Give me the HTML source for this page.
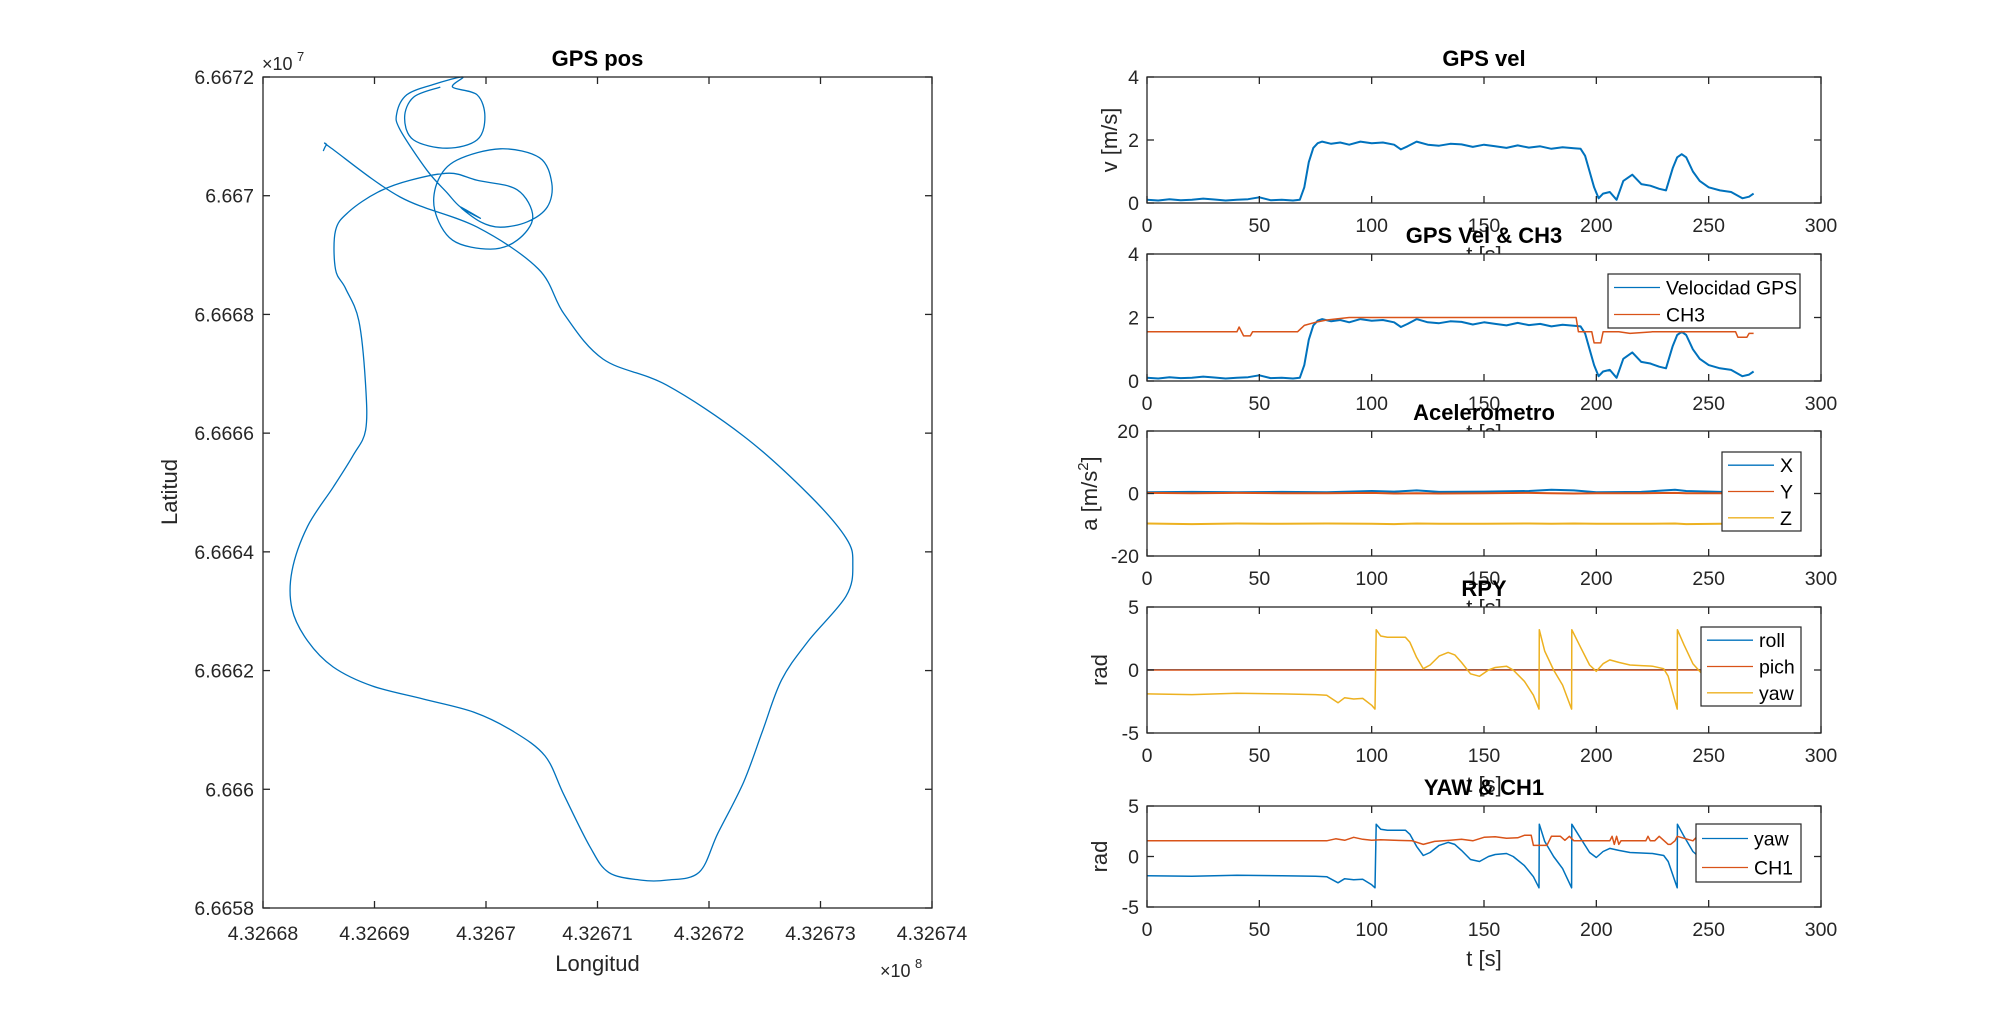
<!DOCTYPE html>
<html><head><meta charset="utf-8"><style>
html,body{margin:0;padding:0;background:#fff;}
svg{display:block;font-family:"Liberation Sans",Arial,sans-serif;}
</style></head><body>
<svg id="fig" width="2000" height="1016" viewBox="0 0 2000 1016" xmlns="http://www.w3.org/2000/svg"></svg>
<script>
// ---------- GPS position data (lon x1e8, lat x1e7) ----------
const gpsLon = [4.3266854,4.3266857,4.3266861,4.3266923,4.3266992,4.3267047,4.326707,4.3267105,4.3267162,4.3267231,4.3267289,4.3267323,4.3267329,4.3267323,4.3267289,4.3267265,4.3267248,4.3267231,4.3267208,4.3267191,4.3267162,4.3267139,4.326711,4.3267093,4.326707,4.3267053,4.3267024,4.3266989,4.3266944,4.3266898,4.3266863,4.326684,4.3266826,4.3266826,4.326684,4.3266863,4.3266881,4.3266892,4.3266892,4.3266886,4.3266874,4.3266865,4.3266865,4.3266877,4.3266903,4.3266932,4.3266967,4.3266992,4.3267028,4.3267042,4.3267028,4.3267004,4.326697,4.3266954,4.3266957,4.3266974,4.3267013,4.3267048,4.3267059,4.3267055,4.3267037,4.3267013,4.3266995,4.3266977,4.3266995,4.3266977,4.3266965,4.3266947,4.3266923,4.326692,4.3266929,4.3266952,4.3266979,4.326697,4.3266992,4.3266999,4.3266992,4.3266965,4.3266935,4.3266927,4.3266935,4.3266959];
const gpsLat = [6.6670753,6.6670854,6.6670804,6.6669978,6.6669472,6.6668765,6.6668007,6.6667248,6.666681,6.6665951,6.6664974,6.6664232,6.6663794,6.6663255,6.6662497,6.666184,6.666098,6.666012,6.665926,6.66586,6.665847,6.665847,6.66586,6.665904,6.66599,6.666056,6.666098,6.66613,6.666152,6.666174,6.666206,6.66625,6.666304,6.666368,6.666443,6.666509,6.666563,6.666605,6.666681,6.666789,6.666844,6.666876,6.666941,6.666973,6.667006,6.667026,6.667038,6.667026,6.66701,6.666964,6.666925,6.66691,6.666925,6.666976,6.667026,6.66706,6.667079,6.667064,6.667021,6.666981,6.666956,6.666947,6.666956,6.666981,6.666962,6.666981,6.667005,6.667043,6.667111,6.667139,6.66717,6.667187,6.6672,6.667183,6.66717,6.667133,6.667094,6.66708,6.667094,6.667131,6.667166,6.667183];
const lonTicks = ["4.32668","4.32669","4.3267","4.32671","4.32672","4.32673","4.32674"];
const latTicks = ["6.6658","6.666","6.6662","6.6664","6.6666","6.6668","6.667","6.6672"];

// ---------- time series ----------
const timeTicks = [0,50,100,150,200,250,300];
const velT = [0,5,10,15,20,25,30,35,40,45,50,55,60,65,68,70,72,74,76,78,82,86,90,95,100,105,110,113,116,120,125,130,135,140,145,150,155,160,165,170,175,180,185,190,193,195,197,199,201,203,206,209,212,216,220,224,228,231,234,236,238,240,243,246,250,255,260,265,268,270];
const velV = [0.1,0.08,0.12,0.09,0.1,0.14,0.11,0.08,0.1,0.12,0.18,0.09,0.1,0.08,0.1,0.5,1.3,1.75,1.9,1.95,1.88,1.92,1.85,1.95,1.9,1.92,1.85,1.7,1.8,1.95,1.85,1.82,1.88,1.86,1.78,1.85,1.8,1.75,1.83,1.76,1.8,1.72,1.77,1.74,1.72,1.5,1.0,0.5,0.15,0.3,0.35,0.1,0.7,0.9,0.6,0.55,0.45,0.4,1.1,1.45,1.55,1.45,1.0,0.7,0.5,0.4,0.35,0.15,0.2,0.3];
const ch3T = [0,40,41,43,46,47,67,70,75,80,90,191,192,198,199,202,203,210,215,225,235,240,262,263,267,268,270];
const ch3V = [1.55,1.55,1.7,1.42,1.42,1.55,1.55,1.75,1.85,1.92,2.0,2.0,1.55,1.55,1.2,1.2,1.55,1.55,1.5,1.55,1.55,1.55,1.55,1.38,1.38,1.5,1.5];
const accT = [0,20,40,60,80,100,110,120,130,150,170,180,190,200,220,235,240,255,258];
const accX = [0.4,0.5,0.4,0.5,0.4,0.8,0.6,1.0,0.5,0.6,0.8,1.2,1.0,0.4,0.5,1.2,0.8,0.5,0.5];
const accY = [0.2,0.1,0.2,0.1,0.1,0.2,0.0,0.1,0.0,0.1,0.2,0.1,0.0,0.1,0.1,0.2,0.1,0.1,0.1];
const accZ = [-9.6,-9.8,-9.6,-9.7,-9.6,-9.7,-9.8,-9.6,-9.7,-9.7,-9.6,-9.7,-9.6,-9.7,-9.7,-9.6,-9.8,-9.7,-9.7];
const rpT = [0,250];
const rollV = [0.02,0.02];
const pichV = [0,0];
const yawT = [0,20,40,60,75,80,85,88,92,96,100,101.5,102,104,107,115,117,120,123,126,130,134,137,140,144,148,152,155,160,163,168,172,174.5,174.6,177,181,185,189,189.1,193,197,200,203,206,210,215,220,225,230,232,236,236.1,239,243,247,250];
const yawV = [-1.9,-1.95,-1.85,-1.9,-1.95,-2.0,-2.6,-2.2,-2.3,-2.25,-2.8,-3.1,3.2,2.7,2.6,2.6,2.2,1.0,0.1,0.4,1.1,1.4,1.2,0.6,-0.3,-0.5,0.0,0.2,0.3,0.0,-0.9,-2.0,-3.1,3.2,1.5,0.0,-1.2,-3.1,3.2,1.8,0.4,-0.1,0.5,0.8,0.6,0.4,0.35,0.3,0.1,-0.5,-3.1,3.2,2.0,0.5,-0.3,-0.6];
const ch1T = [0,80,84,88,92,96,100,104,110,118,123,128,135,140,145,150,155,160,165,168,171,172,178,180,184,186,188,190,200,206,207,208,209,210,211,222,223,224,226,228,232,233,235,236,243,245,246,250];
const ch1V = [1.55,1.55,1.75,1.6,1.9,1.7,1.6,1.65,1.6,1.55,1.2,1.5,1.6,1.7,1.55,1.9,1.95,1.8,1.85,2.1,2.1,1.1,1.1,2.0,2.0,1.6,2.0,1.55,1.55,1.55,2.0,1.2,2.0,1.2,1.55,1.55,2.0,1.55,1.55,2.0,1.2,1.2,1.55,2.0,1.55,2.0,1.55,1.55];

const NS='http://www.w3.org/2000/svg';
const svg=document.getElementById('fig');
const BLUE='#0072BD', ORANGE='#D95319', YELLOW='#EDB120', AX='#262626';
const TICKFS=19.5;
function mk(tag,attrs,parent){const e=document.createElementNS(NS,tag);for(const k in attrs)e.setAttribute(k,attrs[k]);(parent||svg).appendChild(e);return e;}
function txt(s,x,y,opts,parent){const t=mk('text',Object.assign({x:x,y:y,'font-size':TICKFS,fill:AX},opts||{}),parent);t.textContent=s;return t;}

function axesBox(g,L,T,R,B){
  const r=mk('rect',{x:L,y:T,width:R-L,height:B-T,fill:'#fff',stroke:'none'},g);
  
  
}
function axesFrame(g,L,T,R,B){
  const r=mk('rect',{x:L,y:T,width:R-L,height:B-T,fill:'none',stroke:AX,'stroke-width':1.3},g);
  
  
}
function polyline(g,xs,ys,sx,sy,color,name,w){
  let d='';
  for(let i=0;i<xs.length;i++){d+=(i?'L':'M')+sx(xs[i]).toFixed(1)+','+sy(ys[i]).toFixed(1);}
  const p=mk('path',{d:d,fill:'none',stroke:color,'stroke-width':w||1.3,'stroke-linejoin':'round'},g);
  
  
  return p;
}
function smoothline(g,xs,ys,sx,sy,color,name,w){
  const P=xs.map((x,i)=>[sx(x),sy(ys[i])]);
  let d='M'+P[0][0].toFixed(1)+','+P[0][1].toFixed(1);
  for(let i=0;i<P.length-1;i++){
    const p0=P[Math.max(0,i-1)],p1=P[i],p2=P[i+1],p3=P[Math.min(P.length-1,i+2)];
    const c1=[p1[0]+(p2[0]-p0[0])/6,p1[1]+(p2[1]-p0[1])/6];
    const c2=[p2[0]-(p3[0]-p1[0])/6,p2[1]-(p3[1]-p1[1])/6];
    d+='C'+c1[0].toFixed(1)+','+c1[1].toFixed(1)+' '+c2[0].toFixed(1)+','+c2[1].toFixed(1)+' '+p2[0].toFixed(1)+','+p2[1].toFixed(1);
  }
  const p=mk('path',{d:d,fill:'none',stroke:color,'stroke-width':w||1.3,'stroke-linejoin':'round'},g);
  
  
}

// ---------- GPS pos plot ----------
(function(){
  const g=mk('g',{});
  
  
  const L=263,T=77,R=932,B=908;
  const x0=4.32668,x1=4.32674,y0=6.6658,y1=6.6672;
  const sx=v=>L+(v-x0)/(x1-x0)*(R-L);
  const sy=v=>B-(v-y0)/(y1-y0)*(B-T);
  axesBox(g,L,T,R,B);
  smoothline(g,gpsLon,gpsLat,sx,sy,BLUE,'gps-track',1.3);
  axesFrame(g,L,T,R,B);
  lonTicks.forEach(s=>{const x=sx(parseFloat(s));
    mk('line',{x1:x,y1:B,x2:x,y2:B-7,stroke:AX,'stroke-width':1.3},g);
    mk('line',{x1:x,y1:T,x2:x,y2:T+7,stroke:AX,'stroke-width':1.3},g);
    const t=txt(s,x,940,{'text-anchor':'middle'},g);
    
    });
  latTicks.forEach(s=>{const y=sy(parseFloat(s));
    mk('line',{x1:L,y1:y,x2:L+7,y2:y,stroke:AX,'stroke-width':1.3},g);
    mk('line',{x1:R,y1:y,x2:R-7,y2:y,stroke:AX,'stroke-width':1.3},g);
    const t=txt(s,254,y+7,{'text-anchor':'end'},g);
    
    });
  const ti=txt('GPS pos',(L+R)/2,66,{'text-anchor':'middle','font-weight':'bold','font-size':22,fill:'#000'},g);
  
  const xl=txt('Longitud',(L+R)/2,971,{'text-anchor':'middle','font-size':22},g);
  
  const yl=txt('Latitud',0,0,{'text-anchor':'middle','font-size':22,transform:'translate(177,492) rotate(-90)'},g);
  
  const e7=txt('×10',262,70,{'font-size':18},g);
  
  txt('7',297,61,{'font-size':13},g);
  const e8=txt('×10',880,977,{'font-size':18},g);
  
  txt('8',915,968,{'font-size':13},g);
})();

// ---------- right subplots ----------
function subplot(cfg){
  const g=mk('g',{});
  
  
  const L=1147,R=1821,T=cfg.T,B=cfg.B;
  const sx=v=>L+(v-0)/300*(R-L);
  const sy=v=>B-(v-cfg.ymin)/(cfg.ymax-cfg.ymin)*(B-T);
  axesBox(g,L,T,R,B);
  cfg.series.forEach(s=>polyline(g,s.t,s.v,sx,sy,s.c,s.n,s.w||1.5));
  axesFrame(g,L,T,R,B);
  timeTicks.forEach(v=>{const x=sx(v);
    mk('line',{x1:x,y1:B,x2:x,y2:B-7,stroke:AX,'stroke-width':1.3},g);
    mk('line',{x1:x,y1:T,x2:x,y2:T+7,stroke:AX,'stroke-width':1.3},g);
    const t=txt(String(v),x,B+29,{'text-anchor':'middle'},g);
    
    });
  cfg.yt.forEach(v=>{const y=sy(v);
    mk('line',{x1:L,y1:y,x2:L+7,y2:y,stroke:AX,'stroke-width':1.3},g);
    mk('line',{x1:R,y1:y,x2:R-7,y2:y,stroke:AX,'stroke-width':1.3},g);
    const t=txt(String(v),1139,y+7,{'text-anchor':'end'},g);
    
    });
  const xl=txt('t [s]',(L+R)/2,B+59,{'text-anchor':'middle','font-size':22},g);
  
  const ti=txt(cfg.title,(L+R)/2,T-11,{'text-anchor':'middle','font-weight':'bold','font-size':22,fill:'#000'},g);
  
  const yl=mk('text',{'text-anchor':'middle','font-size':22,fill:AX,transform:'translate('+cfg.ylx+','+((T+B)/2)+') rotate(-90)'},g);
  yl.innerHTML=cfg.ylabel;
  
  if(cfg.leg){
    const lg=cfg.leg;
    const box=mk('g',{},g);
    
    
    mk('rect',{x:lg.x,y:lg.y,width:lg.w,height:lg.h,fill:'#fff',stroke:AX,'stroke-width':1.2},box);
    const step=lg.h/cfg.series.length;
    cfg.series.forEach((s,i)=>{const cy=lg.y+step*(i+0.5);
      const e=mk('g',{},box);
      
      
      mk('line',{x1:lg.x+6,y1:cy,x2:lg.x+6+lg.ll,y2:cy,stroke:s.c,'stroke-width':1.3},e);
      txt(s.n,lg.x+lg.ll+12,cy+7,{'font-size':19.5,fill:'#000'},e);});
  }
}
subplot({name:'gps-vel-chart',title:'GPS vel',T:77,B:203,ymin:0,ymax:4,yt:[0,2,4],ylabel:'v [m/s]',ylx:1117,
  series:[{t:velT,v:velV,c:BLUE,n:'velocity',w:2}]});
subplot({name:'gps-vel-ch3-chart',title:'GPS Vel & CH3',T:254,B:381,ymin:0,ymax:4,yt:[0,2,4],ylabel:'',ylx:1117,
  series:[{t:velT,v:velV,c:BLUE,n:'Velocidad GPS',w:2},{t:ch3T,v:ch3V,c:ORANGE,n:'CH3'}],
  leg:{x:1608,y:274,w:192,h:54,ll:46}});
subplot({name:'accelerometer-chart',title:'Acelerometro',T:431,B:556,ymin:-20,ymax:20,yt:[-20,0,20],ylabel:'a [m/s<tspan font-size="15" dy="-9">2</tspan><tspan dy="9">]</tspan>',ylx:1097,
  series:[{t:accT,v:accX,c:BLUE,n:'X',w:2},{t:accT,v:accY,c:ORANGE,n:'Y',w:2},{t:accT,v:accZ,c:YELLOW,n:'Z',w:2}],
  leg:{x:1722,y:452,w:79,h:79,ll:46}});
subplot({name:'rpy-chart',title:'RPY',T:607,B:733,ymin:-5,ymax:5,yt:[-5,0,5],ylabel:'rad',ylx:1107,
  series:[{t:rpT,v:rollV,c:BLUE,n:'roll'},{t:rpT,v:pichV,c:ORANGE,n:'pich'},{t:yawT,v:yawV,c:YELLOW,n:'yaw'}],
  leg:{x:1701,y:627,w:100,h:79,ll:46}});
subplot({name:'yaw-ch1-chart',title:'YAW & CH1',T:806,B:907,ymin:-5,ymax:5,yt:[-5,0,5],ylabel:'rad',ylx:1107,
  series:[{t:yawT,v:yawV,c:BLUE,n:'yaw'},{t:ch1T,v:ch1V,c:ORANGE,n:'CH1'}],
  leg:{x:1696,y:824,w:105,h:58,ll:46}});
</script>
</body></html>
